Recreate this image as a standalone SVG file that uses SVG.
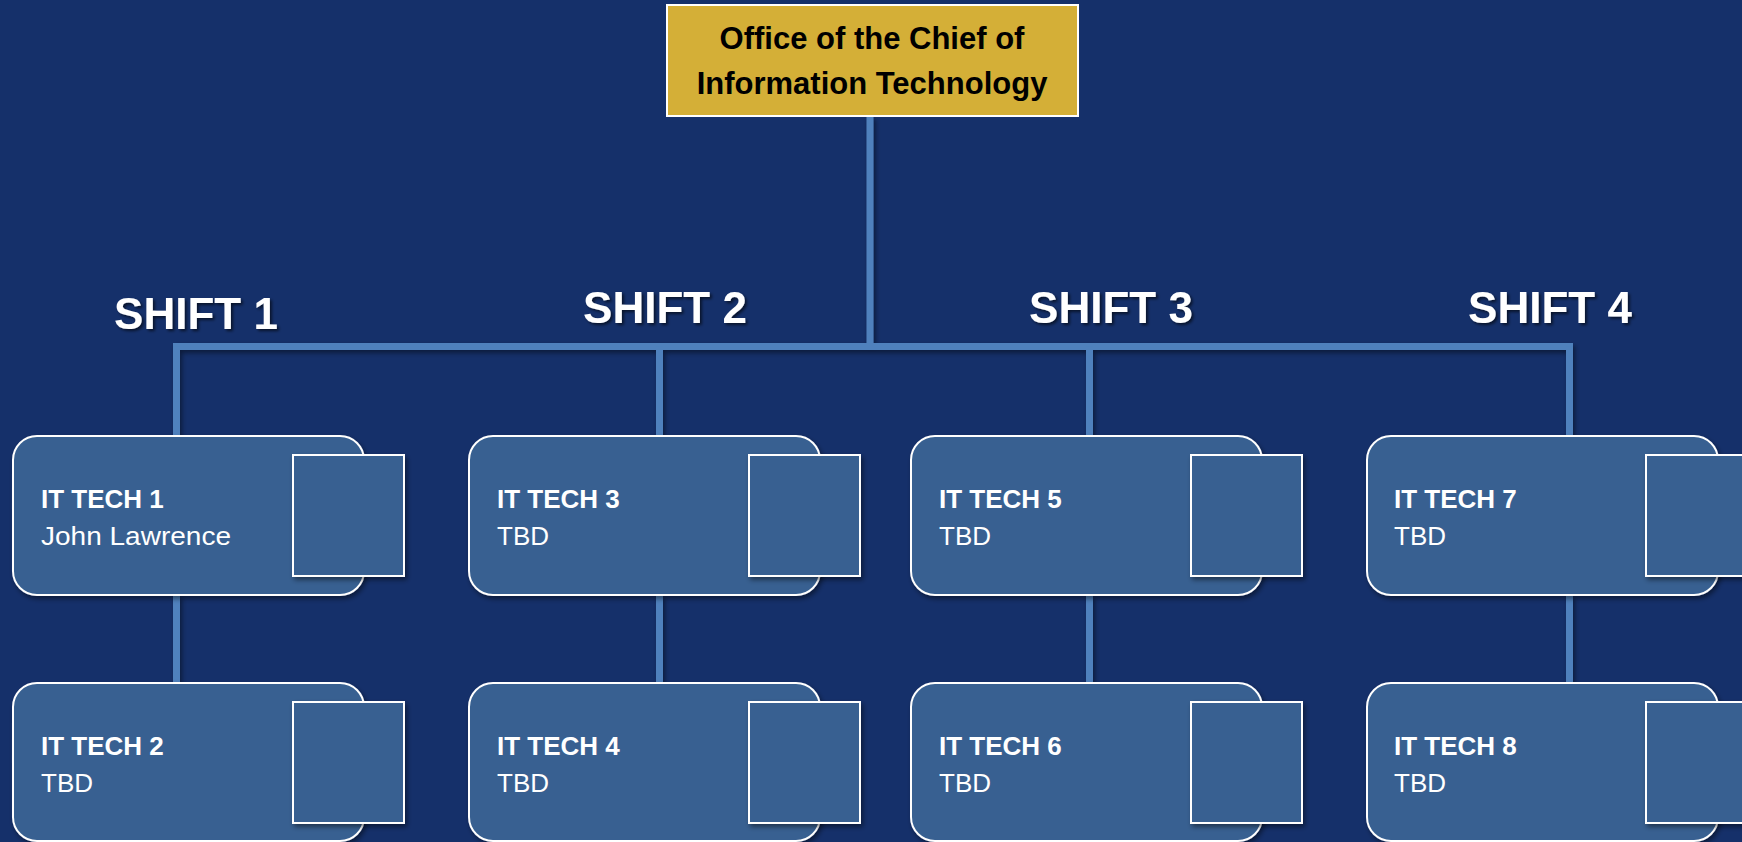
<svg xmlns="http://www.w3.org/2000/svg" width="1742" height="842" viewBox="0 0 1742 842">
<defs>
<filter id="sh" x="-10%" y="-10%" width="130%" height="130%">
<feDropShadow dx="2" dy="3" stdDeviation="2.5" flood-color="#000" flood-opacity="0.45"/>
</filter>
<filter id="tsh" x="-10%" y="-20%" width="130%" height="150%">
<feDropShadow dx="2" dy="2" stdDeviation="1.5" flood-color="#000" flood-opacity="0.6"/>
</filter>
</defs>
<style>
.conn{stroke:#4F81BD;stroke-width:7;fill:none;stroke-linecap:butt}
.box{fill:#376091;stroke:#FFFFFF;stroke-width:2}
.sq{fill:#376091;stroke:#FFFFFF;stroke-width:2}
.t1{font-family:"Liberation Sans",Arial,sans-serif;font-weight:bold;font-size:26px;fill:#FFFFFF}
.t2{font-family:"Liberation Sans",Arial,sans-serif;font-size:26px;fill:#FFFFFF}
.shift{font-family:"Liberation Sans",Arial,sans-serif;font-weight:bold;font-size:44px;fill:#FFFFFF;text-anchor:middle}
.top{font-family:"Liberation Sans",Arial,sans-serif;font-weight:bold;font-size:31px;fill:#000000;text-anchor:middle}
</style>
<rect x="0" y="0" width="1742" height="842" fill="#15306A"/>

<g id="shift-labels" filter="url(#tsh)">
<text class="shift" x="196" y="329">SHIFT 1</text>
<text class="shift" x="665" y="323">SHIFT 2</text>
<text class="shift" x="1111" y="323">SHIFT 3</text>
<text class="shift" x="1550" y="323">SHIFT 4</text>
</g>

<g id="connectors" filter="url(#sh)">
<path class="conn" d="M870,116 V346.5"/>
<path class="conn" d="M173,346.5 H1573"/>
<path class="conn" d="M176.5,346.5 V436"/>
<path class="conn" d="M659.5,346.5 V436"/>
<path class="conn" d="M1089.5,346.5 V436"/>
<path class="conn" d="M1569.5,346.5 V436"/>
<path class="conn" d="M176.5,595 V683"/>
<path class="conn" d="M659.5,595 V683"/>
<path class="conn" d="M1089.5,595 V683"/>
<path class="conn" d="M1569.5,595 V683"/>
</g>

<g id="office">
<rect x="667" y="5" width="411" height="111" fill="#D4AF37" stroke="#FFFFFF" stroke-width="2"/>
<text class="top" x="872" y="49">Office of the Chief of</text>
<text class="top" x="872" y="94">Information Technology</text>
</g>

<g id="it-tech-1">
<rect class="box" x="13" y="436" width="351" height="159" rx="24" filter="url(#sh)"/>
<rect class="sq" x="293" y="455" width="111" height="121" filter="url(#sh)"/>
<text class="t1" x="41" y="508">IT TECH 1</text>
<text class="t2" x="41" y="545" textLength="190" lengthAdjust="spacingAndGlyphs">John Lawrence</text>
</g>
<g id="it-tech-2">
<rect class="box" x="13" y="683" width="351" height="158" rx="24" filter="url(#sh)"/>
<rect class="sq" x="293" y="702" width="111" height="121" filter="url(#sh)"/>
<text class="t1" x="41" y="755">IT TECH 2</text>
<text class="t2" x="41" y="792">TBD</text>
</g>
<g id="it-tech-3">
<rect class="box" x="469" y="436" width="351" height="159" rx="24" filter="url(#sh)"/>
<rect class="sq" x="749" y="455" width="111" height="121" filter="url(#sh)"/>
<text class="t1" x="497" y="508">IT TECH 3</text>
<text class="t2" x="497" y="545">TBD</text>
</g>
<g id="it-tech-4">
<rect class="box" x="469" y="683" width="351" height="158" rx="24" filter="url(#sh)"/>
<rect class="sq" x="749" y="702" width="111" height="121" filter="url(#sh)"/>
<text class="t1" x="497" y="755">IT TECH 4</text>
<text class="t2" x="497" y="792">TBD</text>
</g>
<g id="it-tech-5">
<rect class="box" x="911" y="436" width="351" height="159" rx="24" filter="url(#sh)"/>
<rect class="sq" x="1191" y="455" width="111" height="121" filter="url(#sh)"/>
<text class="t1" x="939" y="508">IT TECH 5</text>
<text class="t2" x="939" y="545">TBD</text>
</g>
<g id="it-tech-6">
<rect class="box" x="911" y="683" width="351" height="158" rx="24" filter="url(#sh)"/>
<rect class="sq" x="1191" y="702" width="111" height="121" filter="url(#sh)"/>
<text class="t1" x="939" y="755">IT TECH 6</text>
<text class="t2" x="939" y="792">TBD</text>
</g>
<g id="it-tech-7">
<rect class="box" x="1367" y="436" width="351" height="159" rx="24" filter="url(#sh)"/>
<rect class="sq" x="1646" y="455" width="111" height="121" filter="url(#sh)"/>
<text class="t1" x="1394" y="508">IT TECH 7</text>
<text class="t2" x="1394" y="545">TBD</text>
</g>
<g id="it-tech-8">
<rect class="box" x="1367" y="683" width="351" height="158" rx="24" filter="url(#sh)"/>
<rect class="sq" x="1646" y="702" width="111" height="121" filter="url(#sh)"/>
<text class="t1" x="1394" y="755">IT TECH 8</text>
<text class="t2" x="1394" y="792">TBD</text>
</g>
</svg>
